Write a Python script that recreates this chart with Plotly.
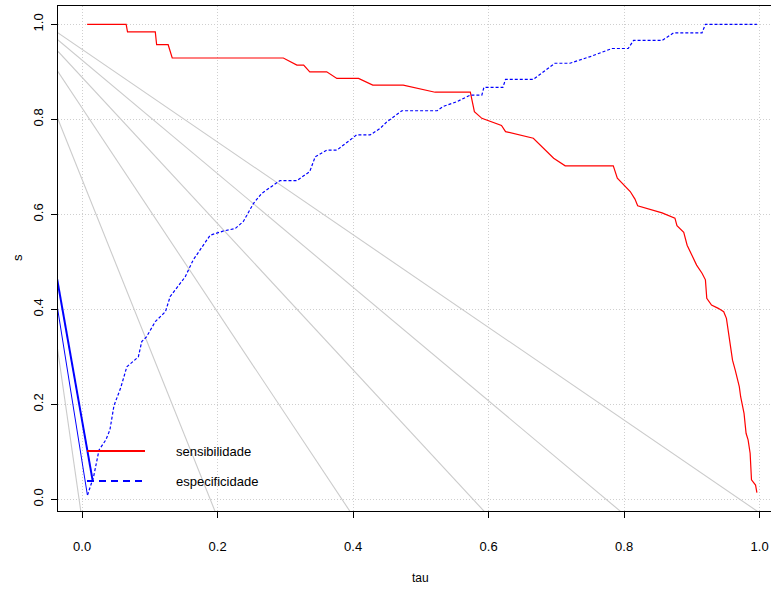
import plotly.graph_objects as go

# ---------------- data ----------------
sens_tau = [0.0074, 0.065, 0.067, 0.108, 0.110, 0.127, 0.133, 0.297, 0.317, 0.327, 0.336,
            0.361, 0.376, 0.408, 0.429, 0.474, 0.521, 0.573, 0.579, 0.590, 0.619, 0.625,
            0.666, 0.681, 0.696, 0.713, 0.784, 0.790, 0.809, 0.816, 0.820, 0.856, 0.875,
            0.878, 0.888, 0.893, 0.903, 0.907, 0.915, 0.920, 0.922, 0.929, 0.939, 0.947,
            0.951, 0.956, 0.960, 0.964, 0.970, 0.972, 0.977, 0.980, 0.983, 0.986, 0.988,
            0.994, 0.996]
sens_s = [1.0, 1.0, 0.984, 0.984, 0.957, 0.957, 0.929, 0.929, 0.914, 0.914, 0.900,
          0.900, 0.886, 0.886, 0.872, 0.872, 0.857, 0.857, 0.816, 0.802, 0.787, 0.774,
          0.760, 0.739, 0.718, 0.702, 0.702, 0.676, 0.648, 0.632, 0.618, 0.603, 0.592,
          0.576, 0.562, 0.535, 0.504, 0.493, 0.476, 0.462, 0.423, 0.409, 0.402, 0.395,
          0.381, 0.335, 0.293, 0.272, 0.237, 0.216, 0.181, 0.139, 0.125, 0.097, 0.041,
          0.030, 0.014]

esp_tau = [0.008, 0.017, 0.025, 0.035, 0.041, 0.047, 0.057, 0.066, 0.075, 0.083, 0.088,
           0.095, 0.108, 0.123, 0.130, 0.140, 0.152, 0.164, 0.174, 0.189, 0.209, 0.226,
           0.238, 0.253, 0.265, 0.282, 0.292, 0.317, 0.336, 0.344, 0.361, 0.376, 0.405,
           0.425, 0.440, 0.450, 0.472, 0.524, 0.533, 0.553, 0.573, 0.590, 0.593, 0.621,
           0.625, 0.666, 0.696, 0.698, 0.720, 0.750, 0.782, 0.806, 0.814, 0.856, 0.873,
           0.915, 0.920, 0.996]
esp_s = [0.009, 0.048, 0.104, 0.125, 0.146, 0.197, 0.235, 0.279, 0.290, 0.300, 0.332,
         0.342, 0.374, 0.395, 0.427, 0.445, 0.468, 0.504, 0.525, 0.556, 0.565, 0.570,
         0.585, 0.623, 0.644, 0.662, 0.671, 0.671, 0.690, 0.721, 0.735, 0.735, 0.767,
         0.767, 0.781, 0.795, 0.818, 0.818, 0.827, 0.837, 0.851, 0.851, 0.867, 0.867,
         0.884, 0.884, 0.916, 0.918, 0.918, 0.932, 0.949, 0.949, 0.966, 0.966, 0.982,
         0.982, 1.0, 1.0]

# grey reference lines: s at the left edge of the plot, tau where they meet the bottom edge
ref_sleft = [0.31, 0.80, 0.90, 0.943, 0.967, 0.982]
ref_tau_bottom = [-0.002, 0.196, 0.395, 0.593, 0.794, 0.996]

# blue solid segments in the lower-left corner: (s at left edge, end tau, end s, width)
seg_sleft = [0.453, 0.396]
seg_tau_end = [0.0155, 0.0078]
seg_s_end = [0.040, 0.009]
seg_width = [2.0, 1.0]

tick_vals = [0.0, 0.2, 0.4, 0.6, 0.8, 1.0]
tick_text = ["0.0", "0.2", "0.4", "0.6", "0.8", "1.0"]
legend_labels = ["sensibilidade", "especificidade"]

X_RANGE = [-0.0356, 1.0168]
Y_RANGE = [-0.0246, 1.0385]

FONT = "Liberation Sans, Arial, sans-serif"

fig = go.Figure()

# grey reference lines (clipped by the plotting region)
for sl, tb in zip(ref_sleft, ref_tau_bottom):
    slope = (Y_RANGE[0] - sl) / (tb - X_RANGE[0])
    xs = [X_RANGE[0] - 0.2, tb + 0.2]
    ys = [sl + slope * (x - X_RANGE[0]) for x in xs]
    fig.add_trace(go.Scatter(x=xs, y=ys, mode="lines",
                             line=dict(color="#cbcbcb", width=1.1),
                             hoverinfo="skip", showlegend=False))

# blue solid segments lower-left
for sl, te, se, w in zip(seg_sleft, seg_tau_end, seg_s_end, seg_width):
    slope = (se - sl) / (te - X_RANGE[0])
    x0 = X_RANGE[0] - 0.05
    fig.add_trace(go.Scatter(x=[x0, te], y=[sl + slope * (x0 - X_RANGE[0]), se],
                             mode="lines", line=dict(color="#0000ff", width=w),
                             hoverinfo="skip", showlegend=False))

fig.add_trace(go.Scatter(x=sens_tau, y=sens_s, mode="lines",
                         line=dict(color="#ff0000", width=1.2),
                         name=legend_labels[0], showlegend=False))
fig.add_trace(go.Scatter(x=esp_tau, y=esp_s, mode="lines",
                         line=dict(color="#0000ff", width=1.2, dash="3px,2px"),
                         name=legend_labels[1], showlegend=False))

W, H = 771, 592
L, R, T, B = 58, 0, 6, 81
pw, ph = W - L - R, H - T - B

def px2paper_x(px):
    return (px - L) / pw

def px2paper_y(py):
    return 1 - (py - T) / ph

# manual legend
leg_rows = [(451, "#ff0000", "solid"), (481, "#0000ff", "7px,5px")]
for (py, col, dash), lab in zip(leg_rows, legend_labels):
    fig.add_shape(type="line", xref="paper", yref="paper",
                  x0=px2paper_x(87), x1=px2paper_x(145),
                  y0=px2paper_y(py), y1=px2paper_y(py),
                  line=dict(color=col, width=2, dash=dash))
    fig.add_annotation(xref="paper", yref="paper", x=px2paper_x(174), y=px2paper_y(py),
                       text=lab, showarrow=False, xanchor="left", yanchor="middle",
                       font=dict(family=FONT, size=13, color="#000000"))

# axis titles
fig.add_annotation(xref="paper", yref="paper", x=px2paper_x(420), y=px2paper_y(578),
                   text="tau", showarrow=False, xanchor="center", yanchor="middle",
                   font=dict(family=FONT, size=12, color="#000000"))
fig.add_annotation(xref="paper", yref="paper", x=px2paper_x(17), y=px2paper_y(258),
                   text="s", showarrow=False, xanchor="center", yanchor="middle",
                   textangle=-90, font=dict(family=FONT, size=13, color="#000000"))

fig.update_layout(
    width=W, height=H,
    margin=dict(l=L, r=R, t=T, b=B, pad=0),
    plot_bgcolor="#ffffff", paper_bgcolor="#ffffff",
    showlegend=False,
    xaxis=dict(range=X_RANGE, tickvals=tick_vals, ticktext=tick_text,
               showgrid=True, gridcolor="#cfcfcf", griddash="1px,2px", gridwidth=1,
               zeroline=False, showline=True, linecolor="#000000", linewidth=1,
               mirror=True, ticks="outside", ticklen=6, tickcolor="#000000",
               ticklabelstandoff=17,
               tickfont=dict(family=FONT, size=13, color="#000000")),
    yaxis=dict(range=Y_RANGE, tickvals=tick_vals, ticktext=tick_text,
               showgrid=True, gridcolor="#cfcfcf", griddash="1px,2px", gridwidth=1,
               zeroline=False, showline=True, linecolor="#000000", linewidth=1,
               ticks="outside", ticklen=6, tickcolor="#000000", tickangle=-90,
               ticklabelstandoff=3,
               tickfont=dict(family=FONT, size=13, color="#000000")),
)

fig.write_html("out.html")
